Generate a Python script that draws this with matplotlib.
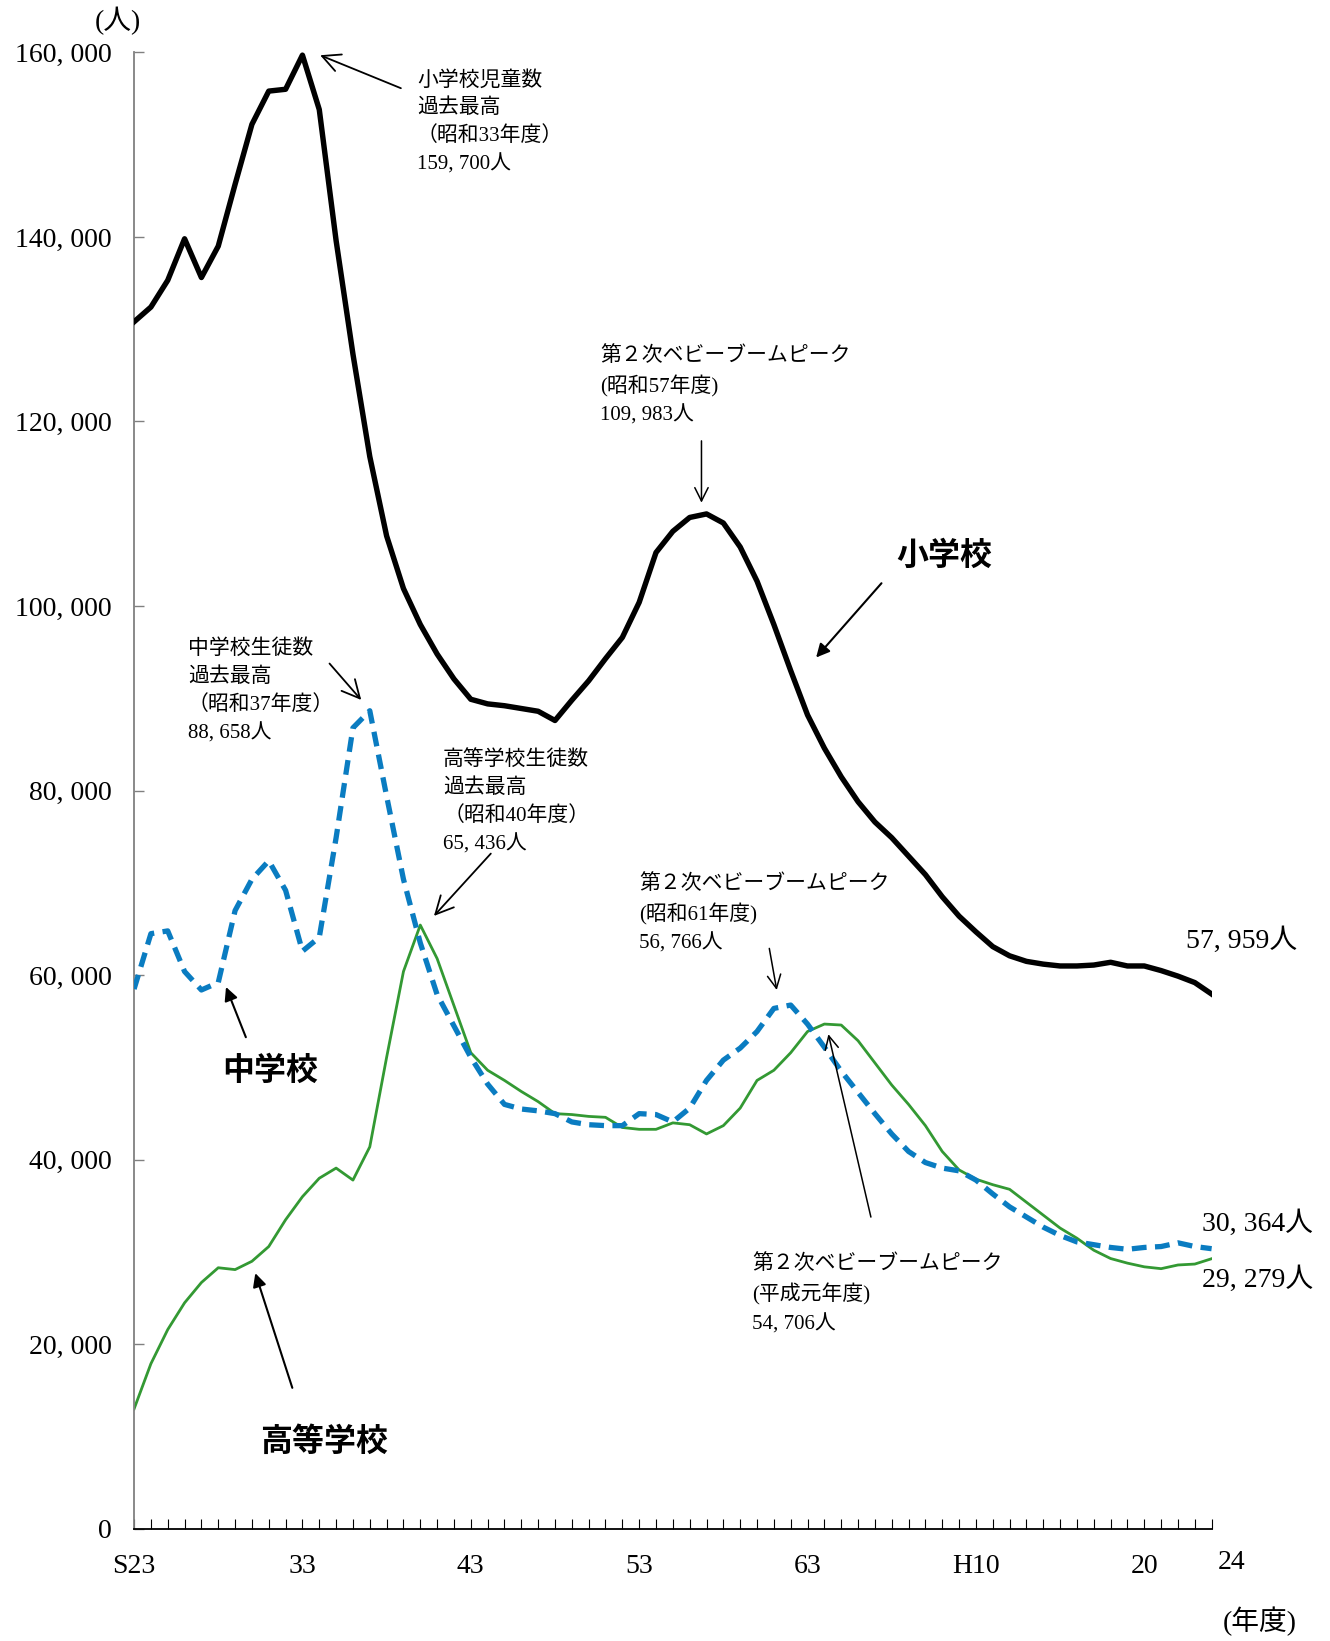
import matplotlib
matplotlib.use("Agg")
import matplotlib.pyplot as plt
from matplotlib.ticker import FuncFormatter, MultipleLocator
from matplotlib.transforms import ScaledTranslation

plt.rcParams['font.family'] = ['Liberation Serif', 'Noto Sans CJK JP']

years = list(range(1948, 2013))

# 小学校 (千人)
elementary = [130.8, 132.4, 135.3, 139.8, 135.6, 139.0, 145.7, 152.2, 155.8, 156.0,
              159.7, 153.8, 139.6, 127.3, 116.2, 107.6, 101.9, 98.0, 94.8, 92.1,
              89.9, 89.4, 89.2, 88.9, 88.6, 87.6, 89.8, 91.9, 94.3, 96.6,
              100.4, 105.8, 108.1, 109.6, 109.983, 109.0, 106.4, 102.7, 98.0, 93.0,
              88.2, 84.6, 81.5, 78.8, 76.6, 74.9, 72.9, 70.9, 68.5, 66.4,
              64.7, 63.1, 62.1, 61.5, 61.2, 61.0, 61.0, 61.1, 61.4, 61.0,
              61.0, 60.5, 59.9, 59.2, 57.959]

# 中学校
junior = [58.5, 64.5, 64.8, 60.4, 58.4, 59.2, 67.0, 70.4, 72.4, 69.2,
          62.6, 64.1, 74.9, 86.8, 88.658, 79.4, 70.4, 63.5, 57.9, 54.5,
          51.1, 48.2, 46.0, 45.5, 45.3, 45.0, 44.1, 43.8, 43.7, 43.7,
          45.0, 44.9, 44.1, 45.6, 48.6, 50.8, 52.1, 53.9, 56.4, 56.766,
          54.7, 52.2, 49.6, 47.3, 45.0, 42.8, 40.9, 39.7, 39.1, 38.8,
          37.8, 36.3, 34.9, 33.8, 32.7, 31.8, 31.1, 30.8, 30.5, 30.3,
          30.5, 30.6, 31.0, 30.6, 30.364]

# 高等学校
high = [13.0, 17.9, 21.6, 24.5, 26.7, 28.3, 28.1, 29.0, 30.6, 33.5,
        36.0, 38.0, 39.1, 37.8, 41.4, 51.1, 60.4, 65.436, 61.8, 56.7,
        51.6, 49.7, 48.6, 47.4, 46.3, 45.0, 44.9, 44.7, 44.6, 43.5,
        43.3, 43.3, 44.0, 43.8, 42.8, 43.7, 45.6, 48.6, 49.7, 51.6,
        53.9, 54.706, 54.6, 52.9, 50.5, 48.1, 46.0, 43.7, 40.9, 38.9,
        37.9, 37.3, 36.8, 35.4, 34.0, 32.6, 31.5, 30.2, 29.3, 28.8,
        28.4, 28.2, 28.6, 28.7, 29.279]

tick_years = [1948, 1958, 1968, 1978, 1988, 1998, 2008, 2012]
tick_labels = ['S23', '33', '43', '53', '63', 'H10', '20', '24']

elementary = [v * 1000 for v in elementary]
junior = [v * 1000 for v in junior]
high = [v * 1000 for v in high]

fig = plt.figure(figsize=(13.3, 16.41), dpi=100)
ax = fig.add_axes([0.1008, 0.0683, 0.8102, 0.8998])

ax.plot(years, high, color='#339933', lw=2.0, zorder=2)
ax.plot(years, junior, color='#0a7cc1', lw=3.8, dashes=(2.8, 1.6), zorder=3)
ax.plot(years, elementary, color='black', lw=3.9, zorder=4)

ax.set_xlim(1948, 2012)
ax.set_ylim(0, 160000)
ax.yaxis.set_major_locator(MultipleLocator(20000))
ax.yaxis.set_major_formatter(FuncFormatter(lambda v, p: f"{int(v):,}".replace(",", ", ")))
ax.set_xticks(tick_years)
ax.set_xticklabels(tick_labels)
ax.xaxis.set_minor_locator(MultipleLocator(1))

for s in ['top', 'right']:
    ax.spines[s].set_visible(False)
ax.spines['left'].set_color('#808080')
ax.spines['left'].set_linewidth(1.3)
ax.spines['bottom'].set_linewidth(1.3)

ax.tick_params(axis='y', direction='in', length=7, width=1, colors='#808080',
               labelcolor='black', labelsize=20, pad=16)
ax.tick_params(axis='x', which='both', direction='in', length=7, width=0.8,
               labelsize=20, pad=18)

# 最後のラベル「24」は少し右上へ
last = ax.get_xticklabels()[-1]
last.set_transform(last.get_transform() + ScaledTranslation(14 / 72, 3 / 72, fig.dpi_scale_trans))

fs = 15
ls = 1.55
bold = dict(fontsize=23, fontweight='bold', family='Noto Sans CJK JP', ha='center', va='center')
open_arrow = dict(arrowstyle='->', lw=1.3, color='black', mutation_scale=32)
thin_arrow = dict(arrowstyle='->', lw=1.1, color='black', mutation_scale=24)
solid_arrow = dict(arrowstyle='-|>', lw=1.5, color='black', mutation_scale=20)

ax.text(1964.8, 158000, "小学校児童数\n過去最高\n（昭和33年度）\n159, 700人",
        fontsize=fs, va='top', linespacing=ls)
ax.annotate("", xy=(1958.9, 159800), xytext=(1964.0, 156000), arrowprops=open_arrow)

ax.text(1975.7, 128200, "第２次ベビーブームピーク\n(昭和57年度)\n109, 983人",
        fontsize=fs, va='top', linespacing=ls)
ax.annotate("", xy=(1981.7, 110900), xytext=(1981.7, 118200), arrowprops=thin_arrow)

ax.text(1996.1, 105400, "小学校", **bold)
ax.annotate("", xy=(1988.4, 94200), xytext=(1992.5, 102700), arrowprops=solid_arrow)

ax.text(1951.2, 96400, "中学校生徒数\n過去最高\n（昭和37年度）\n88, 658人",
        fontsize=fs, va='top', linespacing=ls)
ax.annotate("", xy=(1961.6, 89600), xytext=(1959.5, 94000), arrowprops=open_arrow)

ax.text(1966.35, 84400, "高等学校生徒数\n過去最高\n（昭和40年度）\n65, 436人",
        fontsize=fs, va='top', linespacing=ls)
ax.annotate("", xy=(1965.7, 66200), xytext=(1969.3, 73400), arrowprops=open_arrow)

ax.text(1978.0, 71000, "第２次ベビーブームピーク\n(昭和61年度)\n56, 766人",
        fontsize=fs, va='top', linespacing=ls)
ax.annotate("", xy=(1986.2, 58100), xytext=(1985.7, 63200), arrowprops=thin_arrow)

ax.text(1984.7, 29800, "第２次ベビーブームピーク\n(平成元年度)\n54, 706人",
        fontsize=fs, va='top', linespacing=ls)
ax.annotate("", xy=(1989.2, 53900), xytext=(1991.8, 33500), arrowprops=thin_arrow)

ax.text(1956.1, 49600, "中学校", **bold)
ax.annotate("", xy=(1953.4, 59000), xytext=(1954.7, 53000), arrowprops=solid_arrow)

ax.text(1959.3, 9400, "高等学校", **bold)
ax.annotate("", xy=(1955.15, 28000), xytext=(1957.45, 15000), arrowprops=solid_arrow)

ax.text(2010.45, 63800, "57, 959人", fontsize=20, va='center')
ax.text(2011.4, 33100, "30, 364人", fontsize=20, va='center')
ax.text(2011.4, 27000, "29, 279人", fontsize=20, va='center')

fig.text(0.089, 0.987, "(人)", fontsize=20, ha='center', va='center')
fig.text(0.947, 0.012, "(年度)", fontsize=20, ha='center', va='center')

fig.savefig("out.png", dpi=100)
